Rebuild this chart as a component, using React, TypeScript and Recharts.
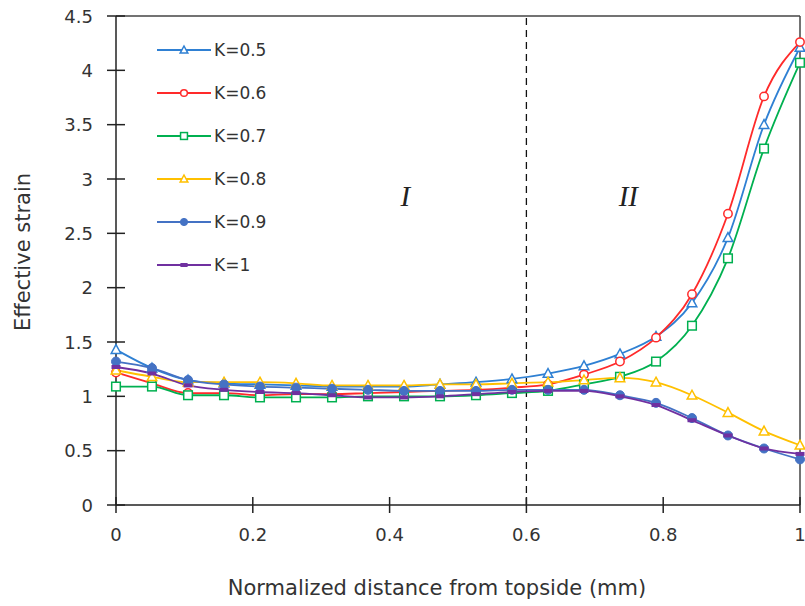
import React from 'react';
import { LineChart, Line, XAxis, YAxis, ReferenceLine, ReferenceDot, Legend } from 'recharts';

const xs = [0, 0.0526, 0.1053, 0.1579, 0.2105, 0.2632, 0.3158, 0.3684, 0.4211, 0.4737, 0.5263, 0.5789, 0.6316, 0.6842, 0.7368, 0.7895, 0.8421, 0.8947, 0.9474, 1];
const k05 = [1.43, 1.26, 1.15, 1.12, 1.11, 1.10, 1.09, 1.09, 1.09, 1.11, 1.13, 1.16, 1.21, 1.28, 1.39, 1.55, 1.86, 2.46, 3.50, 4.21];
const k06 = [1.22, 1.12, 1.03, 1.03, 1.01, 1.02, 1.02, 1.03, 1.04, 1.05, 1.06, 1.08, 1.11, 1.20, 1.32, 1.54, 1.94, 2.68, 3.76, 4.26];
const k07 = [1.09, 1.09, 1.01, 1.01, 0.99, 0.99, 0.99, 1.00, 1.00, 1.00, 1.01, 1.03, 1.05, 1.11, 1.18, 1.32, 1.65, 2.27, 3.28, 4.07];
const k08 = [1.24, 1.18, 1.13, 1.13, 1.13, 1.12, 1.10, 1.10, 1.10, 1.11, 1.11, 1.12, 1.13, 1.15, 1.17, 1.13, 1.01, 0.85, 0.68, 0.55];
const k09 = [1.32, 1.26, 1.15, 1.11, 1.09, 1.08, 1.07, 1.06, 1.05, 1.05, 1.05, 1.06, 1.06, 1.06, 1.01, 0.94, 0.80, 0.64, 0.52, 0.42];
const k1 = [1.27, 1.21, 1.10, 1.06, 1.04, 1.03, 1.01, 0.99, 0.99, 1.00, 1.02, 1.04, 1.05, 1.05, 1.00, 0.92, 0.78, 0.64, 0.52, 0.47];

const seriesNames = ['K=0.5', 'K=0.6', 'K=0.7', 'K=0.8', 'K=0.9', 'K=1'];
const xTicks = [0, 0.2, 0.4, 0.6, 0.8, 1];
const yTicks = [0, 0.5, 1, 1.5, 2, 2.5, 3, 3.5, 4, 4.5];

const data = xs.map((x, i) => ({ x, k05: k05[i], k06: k06[i], k07: k07[i], k08: k08[i], k09: k09[i], k1: k1[i] }));

const FONT = '"DejaVu Sans", sans-serif';
const SERIF = '"Liberation Serif", "DejaVu Serif", serif';

type Shape = 'triangle' | 'circle' | 'square' | 'dot' | 'dash';

const series: { key: string; name: string; color: string; shape: Shape }[] = [
  { key: 'k05', name: seriesNames[0], color: '#2F80D3', shape: 'triangle' },
  { key: 'k06', name: seriesNames[1], color: '#FF2A2A', shape: 'circle' },
  { key: 'k07', name: seriesNames[2], color: '#00B050', shape: 'square' },
  { key: 'k08', name: seriesNames[3], color: '#FFC000', shape: 'triangle' },
  { key: 'k09', name: seriesNames[4], color: '#4472C4', shape: 'dot' },
  { key: 'k1', name: seriesNames[5], color: '#7030A0', shape: 'dash' },
];

function Marker({ cx, cy, shape, color, s = 1 }: { cx: number; cy: number; shape: Shape; color: string; s?: number }) {
  if (cx == null || cy == null) return null;
  switch (shape) {
    case 'triangle':
      return <polygon points={`${cx},${cy - 5 * s} ${cx + 4.8 * s},${cy + 3.8 * s} ${cx - 4.8 * s},${cy + 3.8 * s}`} fill="white" stroke={color} strokeWidth={1.5} />;
    case 'circle':
      return <circle cx={cx} cy={cy} r={4.2 * s} fill="white" stroke={color} strokeWidth={1.5} />;
    case 'square':
      return <rect x={cx - 4.3 * s} y={cy - 4.3 * s} width={8.6 * s} height={8.6 * s} fill="white" stroke={color} strokeWidth={1.5} />;
    case 'dot':
      return <circle cx={cx} cy={cy} r={4.5 * s} fill={color} stroke={color} strokeWidth={1} />;
    case 'dash':
      return <rect x={cx - 4.5 * s} y={cy - 2} width={9 * s} height={4} fill={color} />;
  }
  return null;
}

const YTick = (props: any) => {
  const { x, y, payload } = props;
  return (
    <g>
      <line x1={x - 9} x2={x + 9} y1={y} y2={y} stroke="#222" strokeWidth={1.5} />
      <text x={x - 23} y={y + 6.5} textAnchor="end" fontSize={18} fontFamily={FONT} fill="#333">{payload.value}</text>
    </g>
  );
};

const XTick = (props: any) => {
  const { x, y, payload } = props;
  return (
    <g>
      <line x1={x} x2={x} y1={y - 8} y2={y + 8} stroke="#222" strokeWidth={1.5} />
      <text x={x} y={y + 36} textAnchor="middle" fontSize={18} fontFamily={FONT} fill="#333">{payload.value}</text>
    </g>
  );
};

const XTitle = () => (
  <text x={437} y={595} textAnchor="middle" fontSize={21} fontFamily={FONT} fill="#333">
    Normalized distance from topside (mm)
  </text>
);

const YTitle = () => (
  <text x={30} y={252} transform="rotate(-90 30 252)" textAnchor="middle" fontSize={21} fontFamily={FONT} fill="#333">
    Effective strain
  </text>
);

const LegendContent = () => (
  <div style={{ fontFamily: FONT, fontSize: 17, color: '#333' }}>
    {series.map((s) => (
      <div key={s.key} style={{ display: 'flex', alignItems: 'center', height: 43 }}>
        <svg width={56} height={14} style={{ display: 'block' }}>
          <line x1={2} x2={56} y1={7} y2={7} stroke={s.color} strokeWidth={2} />
          <Marker cx={29} cy={7} shape={s.shape} color={s.color} s={0.8} />
        </svg>
        <span style={{ marginLeft: 3 }}>{s.name}</span>
      </div>
    ))}
  </div>
);

export default function App() {
  return (
    <div style={{ position: 'absolute', left: 0, top: 0, width: 805, height: 606, background: 'white' }}>
      <LineChart width={805} height={606} data={data} margin={{ top: 16, right: 5, bottom: 0, left: 0 }}>
        <XAxis
          dataKey="x"
          type="number"
          domain={[0, 1]}
          ticks={xTicks}
          tick={<XTick />}
          tickLine={false}
          tickSize={0}
          tickMargin={0}
          height={101}
          axisLine={{ stroke: '#222', strokeWidth: 1.5 }}
          label={<XTitle />}
        />
        <YAxis
          type="number"
          domain={[0, 4.5]}
          ticks={yTicks}
          tick={<YTick />}
          tickLine={false}
          tickSize={0}
          tickMargin={0}
          width={116}
          axisLine={{ stroke: '#222', strokeWidth: 1.5 }}
          label={<YTitle />}
        />
        <ReferenceLine y={4.5} stroke="#444" strokeWidth={1.5} />
        <ReferenceLine x={1} stroke="#444" strokeWidth={1.5} />
        <ReferenceLine x={0.6} stroke="#111" strokeWidth={1.3} strokeDasharray="7 5" />
        <ReferenceDot x={0.423} y={2.85} r={0} fill="none" stroke="none"
          label={{ value: 'I', position: 'center', fontSize: 29, fontStyle: 'italic', fontFamily: SERIF, fill: '#222' }} />
        <ReferenceDot x={0.749} y={2.85} r={0} fill="none" stroke="none"
          label={{ value: 'II', position: 'center', fontSize: 29, fontStyle: 'italic', fontFamily: SERIF, fill: '#222' }} />
        <Legend
          layout="vertical"
          align="center"
          verticalAlign="middle"
          content={<LegendContent />}
          wrapperStyle={{ position: 'absolute', left: 155, top: 28, width: 130 }}
        />
        {series.map((s) => (
          <Line
            key={s.key}
            type="monotone"
            dataKey={s.key}
            name={s.name}
            stroke={s.color}
            strokeWidth={1.8}
            isAnimationActive={false}
            dot={(p: any) => <Marker key={`${s.key}-${p.index}`} cx={p.cx} cy={p.cy} shape={s.shape} color={s.color} />}
            activeDot={false}
          />
        ))}
      </LineChart>
    </div>
  );
}
